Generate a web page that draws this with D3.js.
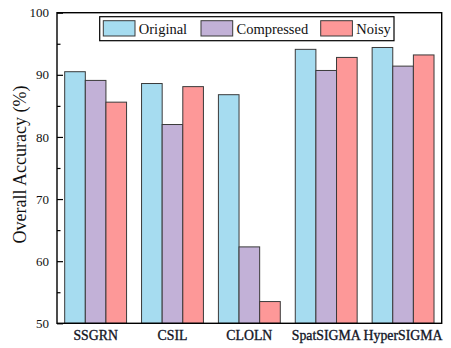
<!DOCTYPE html>
<html>
<head>
<meta charset="utf-8">
<script src="https://cdn.jsdelivr.net/npm/d3@7"></script>
<style>
  body { margin: 0; background: #fff; }
  text { font-family: "Liberation Serif", "Times New Roman", serif; fill: #111; }
</style>
</head>
<body>
<script>
// data
const methods = ["SSGRN", "CSIL", "CLOLN", "SpatSIGMA", "HyperSIGMA"];
const series = ["Original", "Compressed", "Noisy"];
const original = [90.5, 88.6, 86.8, 94.1, 94.4];
const compressed = [89.1, 82.0, 62.3, 90.7, 91.4];
const noisy = [85.6, 88.1, 53.5, 92.8, 93.2];
const yTicks = [50, 60, 70, 80, 90, 100];
const colors = ["#a6dcf0", "#c2b1d7", "#fd9898"];

const values = [original, compressed, noisy];

const W = 451, H = 348;
const margin = {top: 12.7, right: 9.3, bottom: 24.7, left: 57};
const width = W - margin.left - margin.right,
      height = H - margin.top - margin.bottom;

const svg = d3.select("body").append("svg")
              .attr("width", W)
              .attr("height", H);

const g = svg.append("g")
             .attr("transform", `translate(${margin.left},${margin.top})`);

let x0 = d3.scaleBand()
           .domain(methods)
           .range([0, width])
           .paddingInner(0.195)
           .paddingOuter(0.1);

let x1 = d3.scaleBand()
           .domain(series)
           .range([0, x0.bandwidth()]);

let y = d3.scaleLinear()
          .domain([50, 100])
          .range([height, 0]);

// bars
const groups = g.selectAll(".grp")
                .data(methods)
                .join("g")
                .attr("transform", d => `translate(${x0(d)},0)`);

groups.selectAll("rect")
      .data((m, i) => series.map((s, j) => ({s, v: values[j][i], c: colors[j]})))
      .join("rect")
      .attr("x", d => x1(d.s))
      .attr("y", d => y(d.v))
      .attr("width", x1.bandwidth())
      .attr("height", d => height - y(d.v))
      .attr("fill", d => d.c)
      .attr("stroke", "#3a3a3a")
      .attr("stroke-width", 1);

// y axis: major ticks inward, minor ticks between
let yAxisGen = d3.axisLeft(y).tickValues(yTicks).tickSize(-6).tickPadding(8);
let yAxis = g.append("g").call(yAxisGen);
yAxis.select(".domain").remove();
yAxis.selectAll(".tick line").attr("stroke", "#000").attr("stroke-width", 1.2);
yAxis.selectAll(".tick text")
     .attr("font-size", 13)
     .attr("font-family", "Liberation Serif")
     .attr("fill", "#1a1f3a");

let minor = d3.axisLeft(y).tickValues([55, 65, 75, 85, 95]).tickSize(-3.5).tickFormat("");
let yMinor = g.append("g").call(minor);
yMinor.select(".domain").remove();
yMinor.selectAll(".tick line").attr("stroke", "#000").attr("stroke-width", 1.2);

// x axis labels
let xAxisGen = d3.axisBottom(x0).tickSize(0).tickPadding(7);
let xAxis = g.append("g")
             .attr("transform", `translate(0,${height})`)
             .call(xAxisGen);
xAxis.select(".domain").remove();
xAxis.selectAll(".tick text")
     .attr("font-size", 13.8)
     .attr("font-family", "Liberation Serif")
     .attr("fill", "#1a1f3a")
     .attr("stroke", "#1a1f3a")
     .attr("stroke-width", 0.35);

// frame
g.append("rect")
 .attr("width", width)
 .attr("height", height)
 .attr("fill", "none")
 .attr("stroke", "#000")
 .attr("stroke-width", 1.4);

// axis title
svg.append("text")
   .attr("transform", `translate(26,164.5) rotate(-90)`)
   .attr("text-anchor", "middle")
   .attr("font-size", 18)
   .text("Overall Accuracy (%)");

// legend
const legend = svg.append("g");
legend.append("rect")
      .attr("x", 99.7).attr("y", 16.7)
      .attr("width", 294.3).attr("height", 24)
      .attr("fill", "#fff")
      .attr("stroke", "#000")
      .attr("stroke-width", 1.2);

const legendX = [103.3, 201, 320.7];
series.forEach((s, i) => {
  legend.append("rect")
        .attr("x", legendX[i]).attr("y", 20.7)
        .attr("width", 31.7).attr("height", 15.3)
        .attr("fill", colors[i])
        .attr("stroke", "#3a3a3a")
        .attr("stroke-width", 1);
  legend.append("text")
        .attr("x", legendX[i] + 35.5)
        .attr("y", 33.5)
        .attr("font-size", 14.5)
        .text(s);
});
</script>
</body>
</html>
